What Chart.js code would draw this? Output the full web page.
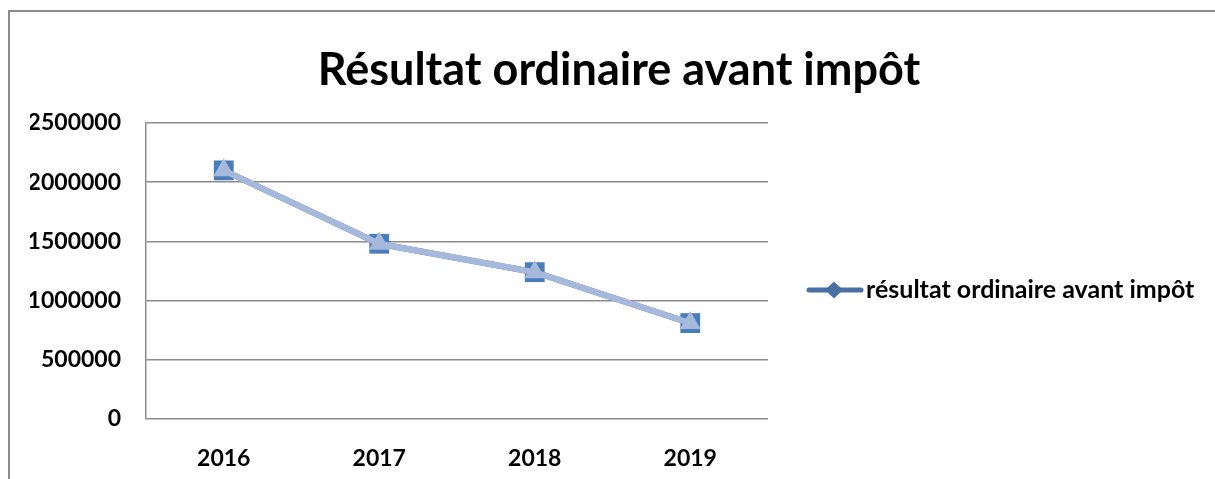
<!DOCTYPE html>
<html><head><meta charset="utf-8">
<script src="https://cdn.jsdelivr.net/npm/chart.js@4.4.1/dist/chart.umd.min.js"></script>
<style>html,body{margin:0;padding:0;background:#fff;overflow:hidden}#wrap{width:1215px;height:479px;position:relative}</style>
</head><body><div id="wrap"><canvas id="c" width="1215" height="479"></canvas></div>
<script>
const chartTitle = 'Résultat ordinaire avant impôt';
const seriesName = 'résultat ordinaire avant impôt';
const years = ['2016', '2017', '2018', '2019'];
const resultatValues = [2100000, 1480000, 1240000, 810000];
const yTickValues = [0, 500000, 1000000, 1500000, 2000000, 2500000];

const FONT = 'Lato, "Noto Sans", sans-serif';
const GRID = '#8c8c8c';
const LEGEND_BLUE = '#4a6fa5';

const frame = {
  id: 'frame',
  beforeDraw(chart) {
    const ctx = chart.ctx;
    ctx.save();
    ctx.fillStyle = '#fff';
    ctx.fillRect(0, 0, chart.width, chart.height);
    ctx.strokeStyle = GRID; ctx.lineWidth = 2;
    ctx.strokeRect(9, 11, 1300, 700);
    ctx.restore();
  }
};

// legend: line with diamond + series name, placed right of the plot area
const sideLegend = {
  id: 'sideLegend',
  afterDraw(chart) {
    const ctx = chart.ctx;
    const a = chart.chartArea;
    const x0 = a.right + 39;
    const y = 290;
    ctx.save();
    ctx.strokeStyle = LEGEND_BLUE; ctx.fillStyle = LEGEND_BLUE;
    ctx.lineWidth = 5; ctx.lineCap = 'round';
    ctx.beginPath(); ctx.moveTo(x0 + 2, y); ctx.lineTo(x0 + 54, y); ctx.stroke();
    const dx = x0 + 27;
    ctx.beginPath(); ctx.moveTo(dx, y - 8.5); ctx.lineTo(dx + 9, y); ctx.lineTo(dx, y + 8.5); ctx.lineTo(dx - 9, y); ctx.closePath(); ctx.fill();
    ctx.fillStyle = '#000';
    ctx.font = 'bold 25px ' + FONT;
    ctx.textBaseline = 'middle';
    ctx.textAlign = 'left';
    ctx.fillText(chart.data.datasets[1].label, x0 + 59, y);
    ctx.restore();
  }
};

new Chart(document.getElementById('c'), {
  type: 'line',
  data: {
    labels: years,
    datasets: [
      {
        label: seriesName,
        data: resultatValues,
        borderColor: '#a6b9dc', borderWidth: 6,
        pointStyle: 'triangle', pointRadius: 12,
        pointBackgroundColor: '#a6b9dc', pointBorderWidth: 0,
        tension: 0
      },
      {
        label: seriesName,
        data: resultatValues,
        borderColor: '#4a7ebb', borderWidth: 6,
        pointStyle: 'rect', pointRadius: 14,
        pointBackgroundColor: '#4a7ebb', pointBorderWidth: 0,
        tension: 0
      }
    ]
  },
  options: {
    responsive: false,
    animation: false,
    devicePixelRatio: 1,
    layout: { padding: { left: 30, right: 7, top: 0, bottom: 0 } },
    scales: {
      x: {
        offset: true,
        grid: { display: false, drawTicks: false },
        border: { display: false },
        ticks: { color: '#000', font: { family: FONT, size: 23, weight: 'bold' }, padding: 26, maxRotation: 0 },
        afterFit(s) { s.height = 60; }
      },
      y: {
        min: 0, max: 2500000,
        afterBuildTicks(s) { s.ticks = yTickValues.map(v => ({ value: v })); },
        grid: { color: GRID, lineWidth: 1.5, drawTicks: false },
        border: { display: true, color: GRID, width: 1.5 },
        ticks: { color: '#000', font: { family: FONT, size: 23, weight: 'bold' }, padding: 25, callback: v => String(v) },
        afterFit(s) { s.width = 116; }
      },
      yR: {
        type: 'linear', position: 'right', display: true,
        grid: { display: false, drawTicks: false },
        border: { display: false },
        ticks: { display: false },
        afterFit(s) { s.width = 440; }
      }
    },
    plugins: {
      tooltip: { enabled: false },
      legend: { display: false },
      title: {
        display: true, text: chartTitle, color: '#000',
        font: { family: FONT, size: 45, weight: 'bold' },
        padding: { top: 43, bottom: 26 }
      }
    }
  },
  plugins: [frame, sideLegend]
});
</script></body></html>
